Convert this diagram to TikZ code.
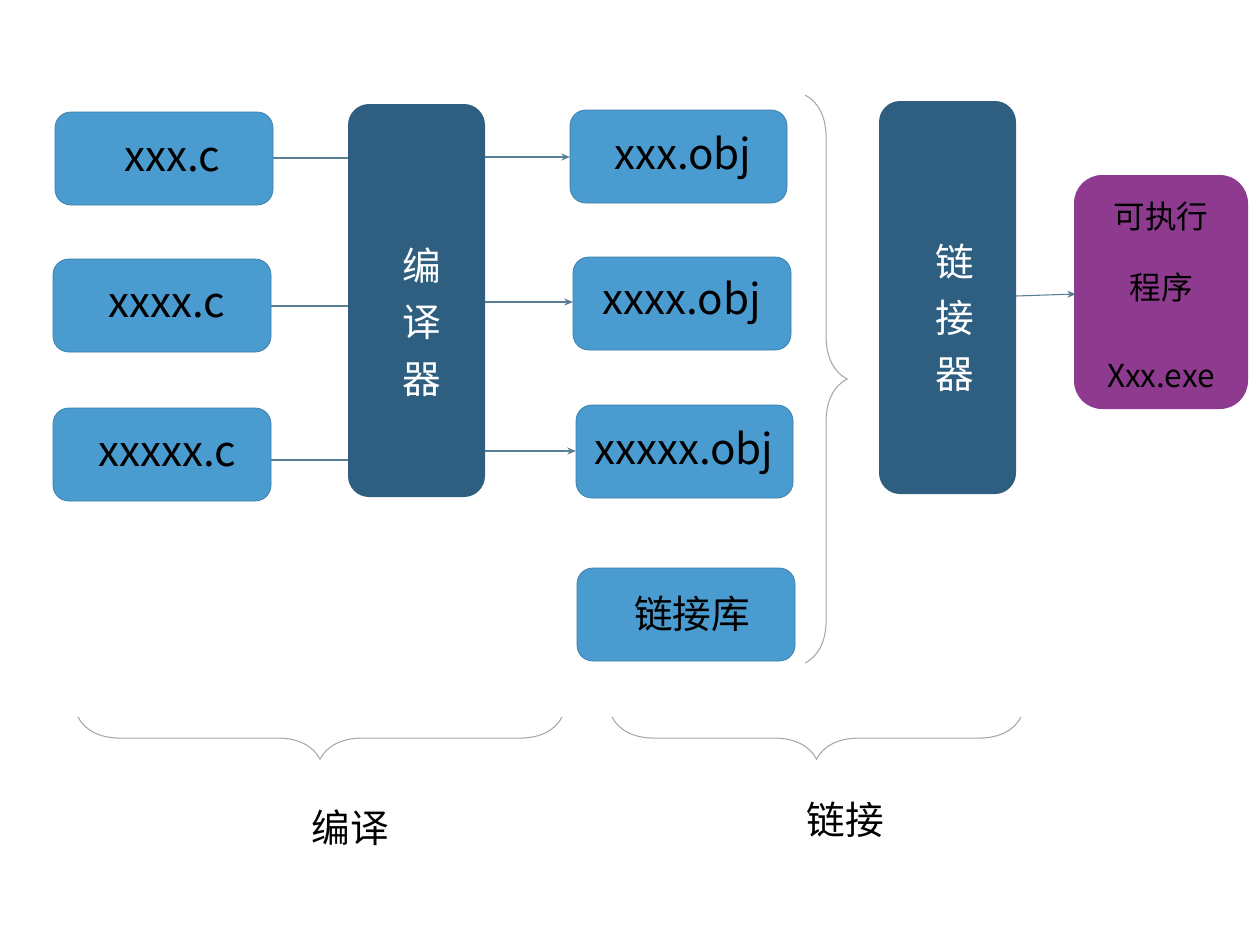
\documentclass[tikz,border=0pt]{standalone}
\usepackage{fontspec}
\setmainfont{Noto Sans CJK SC}
\usetikzlibrary{decorations.pathreplacing,arrows.meta}
\definecolor{lb}{HTML}{4A9BD0}
\definecolor{db}{HTML}{2E5F80}
\definecolor{pu}{HTML}{8E3A8E}
\definecolor{ln}{HTML}{5A7F95}
\begin{document}
\begin{tikzpicture}[x=0.02cm,y=-0.02cm,
  lbox/.style={fill=lb,draw=lb!80!black,line width=0.4pt,rounded corners=9pt,font=\fontsize{24}{28}\selectfont},
  dbox/.style={fill=db,rounded corners=12pt,text=white,font=\fontsize{22}{32}\selectfont,align=center},
  con/.style={ln,line width=0.6pt},
  arr/.style={con,-{Stealth[length=5pt,width=4pt]}},
  br/.style={gray!70,line width=0.6pt,decorate,decoration={brace,amplitude=24pt}}]
\path[use as bounding box] (0,0) rectangle (1260,944);
\newcommand\bx[6]{\path[#6] (#2,#3) rectangle (#4,#5) node[midway] (#1) {};}
\bx{c1}{55}{112}{273}{205}{lbox}
\bx{c2}{53}{259}{271}{352}{lbox}
\bx{c3}{53}{408}{271}{501}{lbox}
\bx{cc}{348}{104}{485}{497}{dbox}
\bx{o1}{570}{110}{787}{203}{lbox}
\bx{o2}{573}{257}{791}{350}{lbox}
\bx{o3}{576}{405}{793}{498}{lbox}
\bx{lib}{577}{568}{795}{661}{lbox}
\bx{lk}{879}{101}{1016}{494}{dbox}
\path[fill=pu,rounded corners=16pt] (1074,175) rectangle (1248,409);
\node[font=\fontsize{24}{28}\selectfont] at (172,160) {xxx.c};
\node[font=\fontsize{24}{28}\selectfont] at (167,306) {xxxx.c};
\node[font=\fontsize{24}{28}\selectfont] at (167,455) {xxxxx.c};
\node[font=\fontsize{24}{28}\selectfont] at (683,158) {xxx.obj};
\node[font=\fontsize{24}{28}\selectfont] at (682,303) {xxxx.obj};
\node[font=\fontsize{24}{28}\selectfont] at (684,453) {xxxxx.obj};
\node[font=\fontsize{22}{28}\selectfont] at (692,614) {链接库};
\node[dbox,fill=none,align=center] (ccl) at (422,322) {编\\译\\器};
\node[dbox,fill=none,align=center] (lkl) at (955,318) {链\\接\\器};
\node[font=\fontsize{18}{40}\selectfont,align=center] (exe) at (1161,252) {可执行\\程序};
\node[font=\fontsize{18}{24}\selectfont] (exe2) at (1161,376) {Xxx.exe};
\coordinate (a1) at (348,158);\coordinate (a2) at (348,306);\coordinate (a3) at (348,460);
\draw[con] (273,158) -- (a1);
\draw[con] (271,306) -- (a2);
\draw[con] (271,460) -- (a3);
\draw[arr] (485,157) -- (570,157);
\draw[arr] (485,302) -- (573,302);
\draw[arr] (485,451) -- (576,451);
\draw[arr] (1016,296) -- (1076,294);
\draw[br] (805,95) -- (805,663);
\draw[br] (562,717) -- (78,717);
\draw[br] (1021,717) -- (612,717);
\node[font=\fontsize{22}{28}\selectfont] at (350,828) {编译};
\node[font=\fontsize{22}{28}\selectfont] at (845,820) {链接};
\end{tikzpicture}
\end{document}
